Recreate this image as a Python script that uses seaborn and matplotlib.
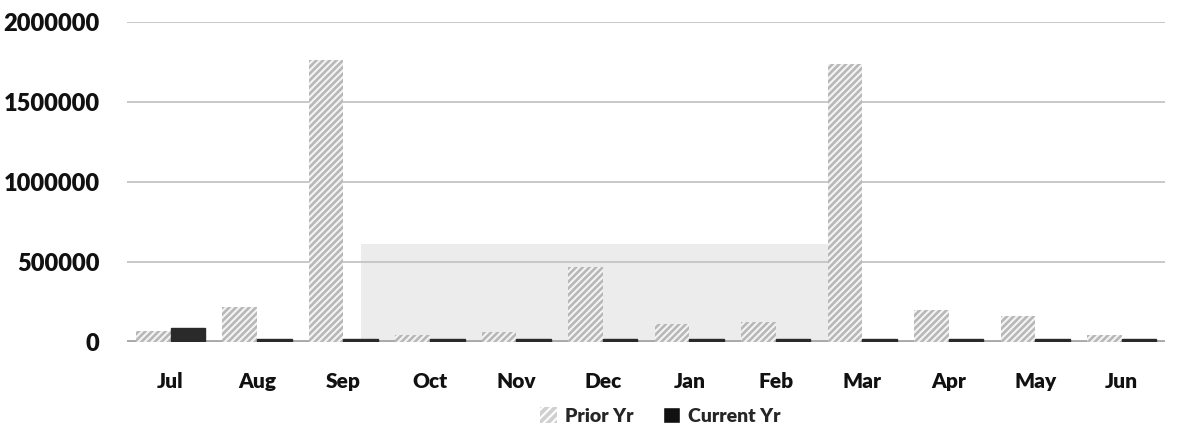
import pandas as pd
import matplotlib.pyplot as plt
import matplotlib.patches as mpatches
import seaborn as sns

# --- dados ---
meses = ['Jul', 'Aug', 'Sep', 'Oct', 'Nov', 'Dec', 'Jan', 'Feb', 'Mar', 'Apr', 'May', 'Jun']
prior_yr = [70000, 220000, 1760000, 45000, 60000, 470000, 110000, 125000, 1740000, 200000, 160000, 45000]
current_yr = [85000, 15000, 15000, 15000, 15000, 15000, 15000, 15000, 15000, 15000, 15000, 15000]
series = ['Prior Yr', 'Current Yr']

df = pd.DataFrame({
    'mes': meses * 2,
    'valor': prior_yr + current_yr,
    'serie': [series[0]] * len(meses) + [series[1]] * len(meses),
})

sns.set_style('white')
plt.rcParams['font.family'] = ['Lato', 'DejaVu Sans']
plt.rcParams['hatch.linewidth'] = 1.5

fig = plt.figure(figsize=(11.79, 4.4), dpi=100)
ax = fig.add_axes([0.108, 0.223, 0.88, 0.727])

# faixa cinza clara ao fundo (parede do grafico 3D)
ax.fill_between([2.2, 7.75], 0, 610000, color='#ececec', zorder=0, linewidth=0)

sns.barplot(data=df, x='mes', y='valor', hue='serie', order=meses,
            palette={'Prior Yr': '#b8b8b8', 'Current Yr': '#2a2a2a'},
            width=0.8, saturation=1, ax=ax, legend=False, zorder=3)

for p in ax.containers[0]:
    p.set_hatch('/////')
    p.set_edgecolor('#f4f4f4')
    p.set_linewidth(0)
for p in ax.containers[1]:
    p.set_edgecolor('#2a2a2a')

ax.set_ylim(0, 2000000)
ax.set_xlim(-0.5, len(meses) - 0.5)
ax.set_yticks([0, 500000, 1000000, 1500000, 2000000])
ax.set_yticklabels(['0', '500000', '1000000', '1500000', '2000000'])
ax.yaxis.grid(True, color='#c4c4c4', linewidth=1.3, zorder=0)
ax.set_axisbelow(True)
ax.axhline(0, color='#a8a8a8', linewidth=3.5, zorder=2)

for s in ax.spines.values():
    s.set_visible(False)

ax.set_xlabel('')
ax.set_ylabel('')
ax.tick_params(axis='x', length=0, pad=22, labelsize=15)
ax.tick_params(axis='y', length=0, pad=20, labelsize=17)
for t in ax.get_xticklabels() + ax.get_yticklabels():
    t.set_fontweight('heavy')
    t.set_color('#111111')

handles = [
    mpatches.Patch(facecolor='#d0d0d0', edgecolor='white', hatch='////', linewidth=0, label='Prior Yr'),
    mpatches.Patch(facecolor='#111111', label='Current Yr'),
]
fig.legend(handles=handles, loc='lower center', bbox_to_anchor=(0.56, -0.005), ncol=2,
           frameon=False, handlelength=0.9, handleheight=0.9, handletextpad=0.4,
           columnspacing=1.5, prop={'weight': 'heavy', 'size': 14})

fig.savefig('out.png', dpi=100)
